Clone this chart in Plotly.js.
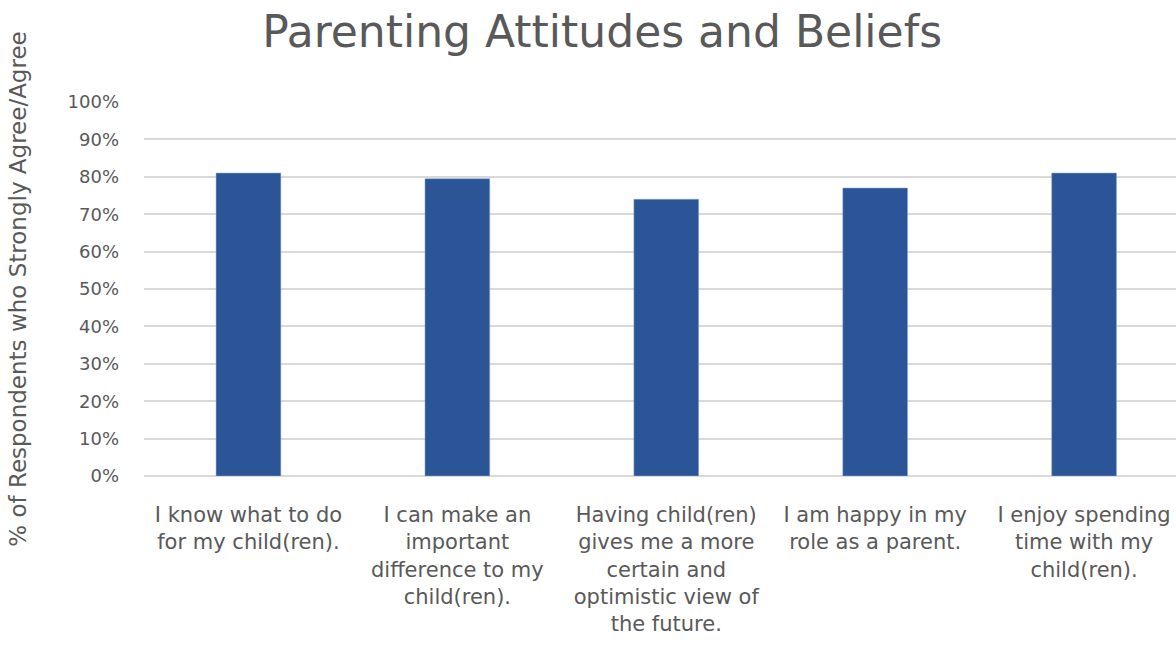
<!DOCTYPE html>
<html>
<head>
<meta charset="utf-8">
<script src="https://cdn.plot.ly/plotly-3.0.1.min.js"></script>
<style>html,body{margin:0;padding:0;background:#fff;}#chart{width:1176px;height:667px;}</style>
</head>
<body>
<div id="chart"></div>
<script>
const categories = [
  "I know what to do<br>for my child(ren).",
  "I can make an<br>important<br>difference to my<br>child(ren).",
  "Having child(ren)<br>gives me a more<br>certain and<br>optimistic view of<br>the future.",
  "I am happy in my<br>role as a parent.",
  "I enjoy spending<br>time with my<br>child(ren)."
];
const values = [0.81, 0.795, 0.74, 0.77, 0.81];
const yTickVals = [0, 0.1, 0.2, 0.3, 0.4, 0.5, 0.6, 0.7, 0.8, 0.9, 1.0];
const yTickText = ["0%", "10%", "20%", "30%", "40%", "50%", "60%", "70%", "80%", "90%", "100%"];

const font = "DejaVu Sans, sans-serif";
const gray = "#595959";

Plotly.newPlot("chart", [{
  type: "bar",
  x: categories,
  y: values,
  width: 0.31,
  marker: {color: "#2b5597", line: {color: "#8fa9d6", width: 0.5}},
  hoverinfo: "none"
}], {
  width: 1176, height: 667,
  margin: {l: 144, r: 0, t: 102, b: 191},
  paper_bgcolor: "#fff", plot_bgcolor: "#fff",
  showlegend: false,
  font: {family: font, color: gray},
  title: {text: "Parenting Attitudes and Beliefs", font: {family: font, size: 44, color: gray}, x: 0.512, xanchor: "center", y: 0.952, yanchor: "middle"},
  xaxis: {
    type: "category",
    range: [-0.5, 4.44],
    showgrid: false, showline: false, zeroline: false,
    ticks: "", tickangle: 0,
    ticklabelstandoff: 24,
    tickfont: {family: font, size: 21, color: gray}
  },
  yaxis: {
    range: [0, 1.0],
    tickvals: yTickVals, ticktext: yTickText,
    showgrid: true, gridcolor: "#d9d9d9", gridwidth: 2,
    zeroline: true, zerolinecolor: "#d9d9d9", zerolinewidth: 2,
    showline: false, ticks: "",
    ticklabelstandoff: 24,
    tickfont: {family: font, size: 18, color: gray},
    title: {text: "% of Respondents who Strongly Agree/Agree", font: {family: font, size: 23, color: gray}, standoff: 34}
  }
}, {displayModeBar: false, staticPlot: true});
</script>
</body>
</html>
